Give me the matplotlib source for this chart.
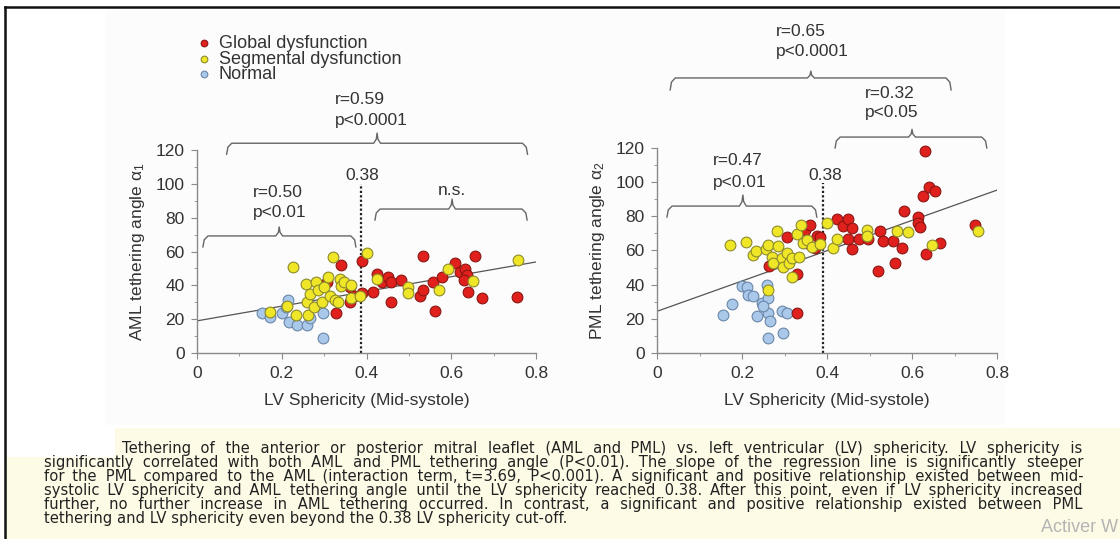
import numpy as np
import matplotlib
matplotlib.use("Agg")
import matplotlib.pyplot as plt
from matplotlib.lines import Line2D
from matplotlib.patches import Rectangle

plt.rcParams['font.family'] = ['Liberation Sans', 'DejaVu Sans']
plt.rcParams['mathtext.fontset'] = 'custom'
plt.rcParams['mathtext.rm'] = 'Liberation Sans'
plt.rcParams['mathtext.it'] = 'Liberation Sans'

W, H = 1120, 539

# ========== DATA ==========
# AML panel (left)
aml_normal_x = [0.153, 0.172, 0.200, 0.215, 0.218, 0.235, 0.259, 0.267, 0.297, 0.297, 0.210]
aml_normal_y = [23.8, 21.1, 23.8, 31.5, 18.5, 16.6, 16.6, 20.5, 23.4, 8.6, 27.0]
aml_seg_x = [0.172, 0.212, 0.226, 0.234, 0.257, 0.259, 0.263, 0.267, 0.275, 0.282, 0.286,
             0.294, 0.300, 0.310, 0.314, 0.320, 0.326, 0.333, 0.338, 0.341, 0.347, 0.363,
             0.363, 0.400, 0.385, 0.424, 0.499, 0.497, 0.570, 0.593, 0.652, 0.758]
aml_seg_y = [24.4, 27.8, 51.0, 22.5, 40.6, 30.0, 22.5, 34.7, 27.4, 42.2, 37.2,
             30.3, 39.2, 45.1, 33.9, 57.0, 31.3, 30.3, 43.5, 39.8, 42.2, 32.3,
             40.0, 58.9, 33.9, 43.5, 38.8, 35.3, 37.2, 49.5, 42.8, 55.0]
aml_glob_x = [0.306, 0.328, 0.341, 0.361, 0.361, 0.370, 0.389, 0.389, 0.416, 0.424, 0.436,
              0.451, 0.457, 0.457, 0.481, 0.526, 0.534, 0.533, 0.558, 0.562, 0.577, 0.609,
              0.621, 0.633, 0.637, 0.630, 0.640, 0.656, 0.672, 0.755]
aml_glob_y = [42.2, 23.8, 52.0, 39.2, 30.3, 33.7, 54.4, 35.3, 36.3, 46.7, 42.2,
              45.1, 42.2, 30.3, 43.2, 33.9, 37.2, 57.3, 42.2, 25.0, 45.1, 53.4,
              48.0, 49.5, 46.1, 43.2, 36.3, 57.3, 32.3, 33.3]
aml_fit = (19.0, 43.5)   # intercept, slope

# PML panel (right)
pml_normal_x = [0.155, 0.176, 0.199, 0.211, 0.215, 0.227, 0.235, 0.246, 0.258, 0.260,
                0.262, 0.266, 0.260, 0.293, 0.307, 0.296, 0.250]
pml_normal_y = [22.2, 28.7, 39.2, 38.4, 34.0, 33.6, 21.7, 29.1, 39.8, 32.0,
                23.2, 18.9, 8.6, 24.8, 23.6, 11.5, 27.5]
pml_seg_x = [0.172, 0.209, 0.227, 0.233, 0.256, 0.262, 0.270, 0.272, 0.282, 0.285, 0.293,
             0.297, 0.305, 0.311, 0.318, 0.317, 0.329, 0.335, 0.338, 0.344, 0.352, 0.364,
             0.384, 0.260, 0.400, 0.413, 0.423, 0.493, 0.495, 0.565, 0.591, 0.646, 0.756]
pml_seg_y = [63.2, 65.2, 57.4, 59.9, 60.7, 63.2, 56.0, 52.9, 71.6, 62.6, 55.4,
             50.5, 58.3, 52.9, 44.7, 55.4, 69.7, 56.4, 74.9, 64.2, 66.1, 61.9,
             63.8, 36.9, 76.3, 61.3, 66.5, 72.0, 68.5, 71.6, 71.0, 63.2, 71.6]
pml_glob_x = [0.329, 0.329, 0.264, 0.305, 0.348, 0.360, 0.352, 0.376, 0.384, 0.372, 0.423,
              0.438, 0.450, 0.458, 0.450, 0.458, 0.476, 0.497, 0.525, 0.531, 0.521, 0.555,
              0.560, 0.576, 0.580, 0.615, 0.615, 0.619, 0.625, 0.631, 0.633, 0.641, 0.654,
              0.667, 0.748]
pml_glob_y = [23.6, 46.2, 50.9, 67.7, 72.0, 74.9, 64.2, 68.5, 68.1, 61.3, 78.2,
              74.3, 78.2, 73.4, 66.5, 60.9, 66.5, 66.5, 71.6, 65.8, 48.2, 65.8,
              52.9, 61.3, 83.3, 79.4, 76.3, 73.6, 91.9, 118.4, 58.0, 97.4, 95.0,
              64.6, 74.9]
pml_fit = (24.4, 88.7)

cutoff = 0.38
group_labels = ['Global dysfunction', 'Segmental dysfunction', 'Normal']

caption_lines = [
    "Tethering of the anterior or posterior mitral leaflet (AML and PML) vs. left ventricular (LV) sphericity. LV sphericity is",
    "significantly correlated with both AML and PML tethering angle (P<0.01). The slope of the regression line is significantly steeper",
    "for the PML compared to the AML (interaction term, t=3.69, P<0.001). A significant and positive relationship existed between mid-",
    "systolic LV sphericity and AML tethering angle until the LV sphericity reached 0.38. After this point, even if LV sphericity increased",
    "further, no further increase in AML tethering occurred. In contrast, a significant and positive relationship existed between PML",
    "tethering and LV sphericity even beyond the 0.38 LV sphericity cut-off.",
]

# ========== STYLE ==========
STYLE = {
    'glob': dict(facecolor='#e0201c', edgecolor='#8a1612'),
    'seg': dict(facecolor='#f0e628', edgecolor='#8c8a2c'),
    'norm': dict(facecolor='#a9c8ea', edgecolor='#6a86a8'),
}
TXT = '#333333'
AX_COL = '#8a8a8a'
FS = 12.5

fig = plt.figure(figsize=(W / 100, H / 100), dpi=100)

# background pieces of the screenshot
fig.add_artist(Rectangle((105 / W, 1 - 425 / H), 900 / W, 415 / H, transform=fig.transFigure,
                         facecolor='#fcfcfc', edgecolor='none', zorder=-5))
fig.add_artist(Rectangle((115 / W, 0), 1 - 115 / W, 1 - 428 / H, transform=fig.transFigure,
                         facecolor='#fdfbe6', edgecolor='none', zorder=-4))
fig.add_artist(Rectangle((5 / W, 0), 1, 1 - 457 / H, transform=fig.transFigure,
                         facecolor='#fdfbe6', edgecolor='none', zorder=-4))
fig.add_artist(Line2D([5 / W, 1], [1 - 7 / H, 1 - 7 / H], transform=fig.transFigure,
                      color='#111111', lw=1.8))
fig.add_artist(Line2D([5 / W, 5 / W], [0, 1 - 7 / H], transform=fig.transFigure,
                      color='#111111', lw=1.8))


def brace(ax, x0, x1, xm, y, drop, rise):
    xs = [x0, x0 + 0.003, x0 + 0.012, xm - 0.008, xm - 0.002, xm,
          xm + 0.002, xm + 0.008, x1 - 0.012, x1 - 0.003, x1]
    ys = [y - drop, y - drop * 0.35, y, y, y + rise * 0.4, y + rise,
          y + rise * 0.4, y, y, y - drop * 0.35, y - drop]
    ax.plot(xs, ys, color='#666666', lw=1.0, clip_on=False, solid_joinstyle='round')


def setup(ax, fit, ylabel):
    ax.set_xlim(0, 0.8)
    ax.set_ylim(0, 120)
    for s in ['top', 'right']:
        ax.spines[s].set_visible(False)
    for s in ['left', 'bottom']:
        ax.spines[s].set_color(AX_COL)
        ax.spines[s].set_linewidth(1.0)
    ax.set_facecolor('none')
    ax.set_xticks(np.arange(0, 0.81, 0.2))
    ax.set_xticklabels(['0', '0.2', '0.4', '0.6', '0.8'])
    ax.set_xticks(np.arange(0.1, 0.8, 0.2), minor=True)
    ax.set_yticks(np.arange(0, 121, 20))
    ax.set_yticks(np.arange(10, 120, 20), minor=True)
    ax.tick_params(which='major', length=4, color=AX_COL, labelsize=FS, labelcolor=TXT, pad=5)
    ax.tick_params(which='minor', length=2.5, color=AX_COL)
    ax.set_xlabel('LV Sphericity (Mid-systole)', fontsize=FS, color=TXT, labelpad=9)
    ax.set_ylabel(ylabel, fontsize=FS, color=TXT, labelpad=6)
    xs = np.array([0, 0.8])
    ax.plot(xs, fit[0] + fit[1] * xs, color='#555555', lw=0.9, zorder=2)


def scatter_groups(ax, gx, gy, sx, sy, nx, ny):
    h_n = ax.scatter(nx, ny, s=60, lw=0.8, zorder=3, clip_on=False, **STYLE['norm'])
    h_g = ax.scatter(gx, gy, s=60, lw=0.8, zorder=3, clip_on=False, **STYLE['glob'])
    h_s = ax.scatter(sx, sy, s=60, lw=0.8, zorder=3, clip_on=False, **STYLE['seg'])
    return h_g, h_s, h_n


# ---------- left: AML ----------
ax1 = fig.add_axes([197 / W, 1 - 353 / H, 339 / W, 203 / H])
setup(ax1, aml_fit, r'AML tethering angle $\mathrm{\alpha}_{1}$')
handles = scatter_groups(ax1, aml_glob_x, aml_glob_y, aml_seg_x, aml_seg_y,
                         aml_normal_x, aml_normal_y)
ax1.plot([cutoff + 0.008] * 2, [0, 100], color='#222222', ls=(0, (1, 1)), lw=1.6, zorder=2)
ax1.text(cutoff + 0.01, 105, '0.38', ha='center', va='center', fontsize=FS, color=TXT)

brace(ax1, 0.07, 0.78, 0.425, 124, 6.5, 6)
ax1.text(0.326, 149.6, 'r=0.59', fontsize=FS, color=TXT, va='center', clip_on=False)
ax1.text(0.326, 137.7, 'p<0.0001', fontsize=FS, color=TXT, va='center', clip_on=False)
brace(ax1, 0.014, 0.375, 0.194, 69.2, 6.5, 5.3)
ax1.text(0.132, 94.6, 'r=0.50', fontsize=FS, color=TXT, va='center')
ax1.text(0.132, 82.8, 'p<0.01', fontsize=FS, color=TXT, va='center')
brace(ax1, 0.42, 0.779, 0.602, 85.1, 6.5, 5.9)
ax1.text(0.602, 96, 'n.s.', fontsize=FS, color=TXT, va='center', ha='center')

leg = ax1.legend(handles, group_labels, loc='upper left', bbox_to_anchor=(197 / W, 1 - 35 / H),
                 bbox_transform=fig.transFigure, frameon=False, fontsize=13, markerscale=0.62,
                 handletextpad=0.4, labelspacing=-0.08, borderpad=0, handlelength=0.8,
                 borderaxespad=0)
for t in leg.get_texts():
    t.set_color(TXT)

# ---------- right: PML ----------
ax2 = fig.add_axes([657 / W, 1 - 353 / H, 340 / W, 205 / H])
setup(ax2, pml_fit, r'PML tethering angle $\mathrm{\alpha}_{2}$')
scatter_groups(ax2, pml_glob_x, pml_glob_y, pml_seg_x, pml_seg_y, pml_normal_x, pml_normal_y)
ax2.plot([cutoff + 0.01] * 2, [0, 99.5], color='#222222', ls=(0, (1, 1)), lw=1.6, zorder=2)
ax2.text(cutoff + 0.015, 104, '0.38', ha='center', va='center', fontsize=FS, color=TXT)

brace(ax2, 0.031, 0.692, 0.362, 161, 7, 4)
ax2.text(0.28, 188, 'r=0.65', fontsize=FS, color=TXT, va='center', clip_on=False)
ax2.text(0.28, 176.5, 'p<0.0001', fontsize=FS, color=TXT, va='center', clip_on=False)
brace(ax2, 0.419, 0.776, 0.60, 126.4, 6.4, 4.5)
ax2.text(0.49, 152, 'r=0.32', fontsize=FS, color=TXT, va='center', clip_on=False)
ax2.text(0.49, 140.5, 'p<0.05', fontsize=FS, color=TXT, va='center', clip_on=False)
brace(ax2, 0.0235, 0.376, 0.202, 86, 6.4, 6.5)
ax2.text(0.132, 112.4, 'r=0.47', fontsize=FS, color=TXT, va='center')
ax2.text(0.132, 100, 'p<0.01', fontsize=FS, color=TXT, va='center')

# ---------- caption (justified by padding the gaps with hair spaces) ----------
renderer = fig.canvas.get_renderer()
CAP_KW = dict(fontsize=10.6, color='#222222', family='DejaVu Sans', va='baseline')


def text_width(s):
    t = fig.text(0, 0, s, **CAP_KW)
    w = t.get_window_extent(renderer).width
    t.remove()
    return w


hair = text_width('x' + '\u200a' * 10 + 'x') - text_width('xx')
hair = hair / 10 if hair > 1 else text_width('x' + '\u2009' * 10 + 'x') / 10
pad_char = '\u200a' if text_width('x\u200ax') > text_width('xx') else '\u2009'

cap_base = [453.5, 467.5, 481.5, 495.5, 509.5, 523.5]
right_px = 1083
for i, line in enumerate(caption_lines):
    left_px = 122 if i == 0 else 44
    words = line.split(' ')
    out = line
    if i < len(caption_lines) - 1:
        extra = (right_px - left_px) - text_width(line)
        n_pad = max(0, int(round(extra / hair)))
        gaps = len(words) - 1
        pieces = [words[0]]
        for k in range(gaps):
            n_k = (k + 1) * n_pad // gaps - k * n_pad // gaps
            pieces.append(' ' + pad_char * n_k + words[k + 1])
        out = ''.join(pieces)
    fig.text(left_px / W, 1 - cap_base[i] / H, out, **CAP_KW)

fig.text(1118 / W, 1 - 527 / H, 'Activer W', fontsize=13, color='#b4b4b4', va='center',
         ha='right')

plt.savefig('out.png', dpi=100)
